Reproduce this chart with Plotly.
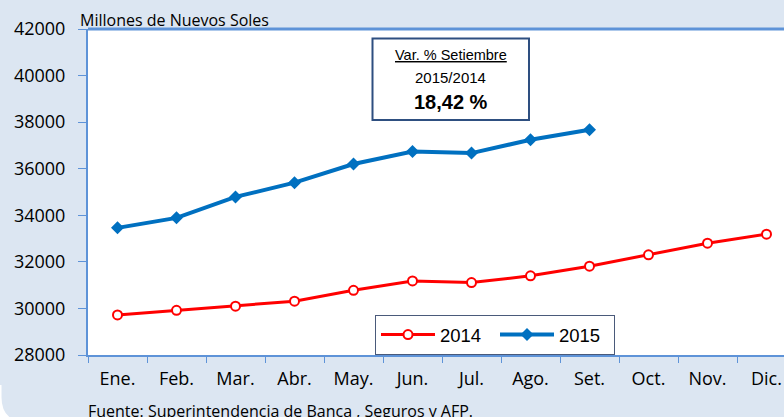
import plotly.graph_objects as go

months = ["Ene.", "Feb.", "Mar.", "Abr.", "May.", "Jun.", "Jul.", "Ago.", "Set.", "Oct.", "Nov.", "Dic."]
v2014 = [29720, 29920, 30095, 30310, 30780, 31180, 31110, 31400, 31815, 32300, 32800, 33190]
v2015 = [33460, 33890, 34790, 35400, 36200, 36740, 36670, 37245, 37675]
y_ticks = [28000, 30000, 32000, 34000, 36000, 38000, 40000, 42000]

W, H = 784, 417
L, R, T, B = 88, 0, 29, 62
PW, PH = W - L - R, H - T - B

def xp(px):
    return (px - L) / PW

def yp(py):
    return (H - B - py) / PH

AX = "#5e93d8"
BG = "#dce6f2"

fig = go.Figure()
fig.add_trace(go.Scatter(
    x=months, y=v2014, name="2014", mode="lines+markers",
    line=dict(color="#ff0000", width=3),
    marker=dict(symbol="circle", size=9, color="white", line=dict(color="#ff0000", width=2)),
))
fig.add_trace(go.Scatter(
    x=months[:len(v2015)], y=v2015, name="2015", mode="lines+markers",
    line=dict(color="#0070c0", width=4),
    marker=dict(symbol="diamond", size=10, color="#0070c0"),
))

shapes = []
corner = (f"M {xp(-1)},{yp(385)} L {xp(1.5)},{yp(385)} L {xp(1.5)},{yp(397)} "
          f"Q {xp(1.5)},{yp(422)} {xp(27)},{yp(422)} L {xp(-1)},{yp(422)} Z")
shapes.append(dict(type="path", path=corner, xref="paper", yref="paper",
                   fillcolor="white", line=dict(width=0), layer="below"))
shapes.append(dict(type="line", xref="paper", yref="paper", x0=0, x1=1, y0=1, y1=1,
                   line=dict(color=AX, width=3), layer="above"))
shapes.append(dict(type="rect", xref="paper", yref="paper",
                   x0=xp(372.5), x1=xp(529), y0=yp(120), y1=yp(38.5),
                   fillcolor="white", line=dict(color="#2e4f80", width=2), layer="above"))

cx = xp(450.5)
annotations = [
    dict(text="Millones de Nuevos Soles", x=xp(78), y=yp(20), xref="paper", yref="paper",
         xanchor="left", yanchor="middle", showarrow=False,
         font=dict(family="Open Sans", size=16, color="black")),
    dict(text="Fuente: Superintendencia de Banca , Seguros y AFP.", x=xp(86), y=yp(411),
         xref="paper", yref="paper", xanchor="left", yanchor="middle", showarrow=False,
         font=dict(family="Open Sans", size=16, color="black")),
    dict(text="<span style='text-decoration:underline'>Var. % Setiembre</span>", x=cx, y=yp(55.5),
         xref="paper", yref="paper", xanchor="center", yanchor="middle", showarrow=False,
         font=dict(family="Liberation Sans", size=14.5, color="black")),
    dict(text="2015/2014", x=cx, y=yp(77), xref="paper", yref="paper",
         xanchor="center", yanchor="middle", showarrow=False,
         font=dict(family="Liberation Sans", size=15, color="black")),
    dict(text="<b>18,42 %</b>", x=cx, y=yp(101.7), xref="paper", yref="paper",
         xanchor="center", yanchor="middle", showarrow=False,
         font=dict(family="Liberation Sans", size=20, color="black")),
]

fig.update_layout(
    width=W, height=H,
    margin=dict(l=L, r=R, t=T, b=B, pad=0),
    paper_bgcolor=BG, plot_bgcolor="white",
    shapes=shapes, annotations=annotations,
    showlegend=True,
    legend=dict(orientation="h", x=xp(375), y=yp(315), xanchor="left", yanchor="top",
                bgcolor="white", bordercolor="#4a5a7a", borderwidth=1,
                font=dict(family="Liberation Sans", size=18.5, color="black"),
                itemwidth=54, entrywidth=50),
    xaxis=dict(type="category", categoryarray=months, range=[-0.5, 11.5 - 12 + PW / 59],
               showgrid=False, zeroline=False, showline=True, linecolor=AX, linewidth=2,
               ticks="outside", tickson="boundaries", ticklen=6, tickcolor=AX, tickwidth=1,
               ticklabelstandoff=6,
               tickfont=dict(family="Open Sans", size=18, color="black")),
    yaxis=dict(range=[28000, 42000], tickvals=y_ticks, ticktext=[str(v) for v in y_ticks],
               showgrid=False, zeroline=False, showline=True, linecolor=AX, linewidth=2,
               ticks="outside", ticklen=8, tickcolor=AX, tickwidth=1,
               ticklabelstandoff=9,
               tickfont=dict(family="Open Sans", size=18, color="black")),
)

fig.write_html("out.html", config={"displayModeBar": False},
               post_script="document.body.style.margin='0';")
